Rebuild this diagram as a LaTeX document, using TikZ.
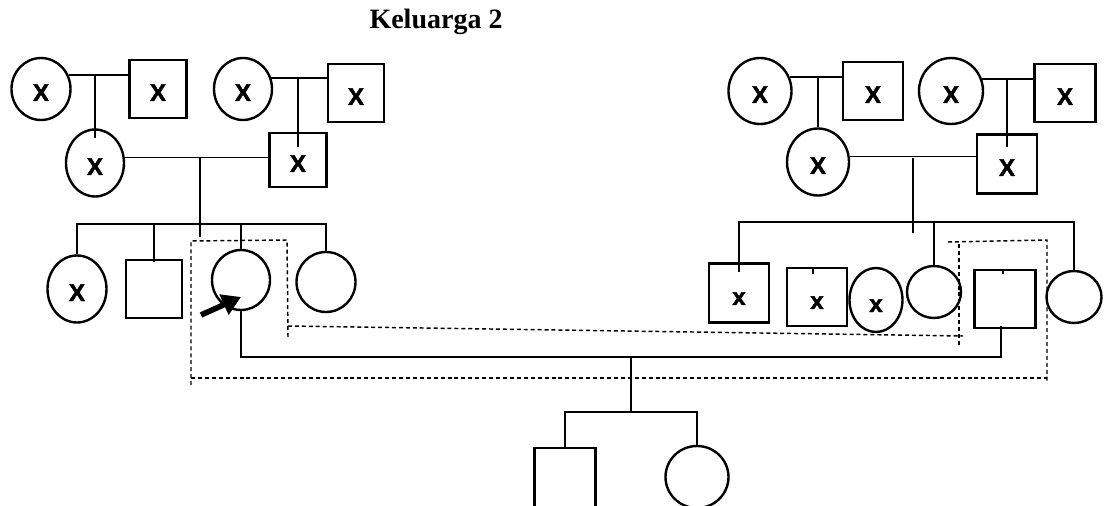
\documentclass[tikz,border=0pt]{standalone}
\usepackage{fontspec}
\setmainfont{Liberation Serif}
\newfontfamily\arialf{Liberation Sans}[UprightFont={* Bold},UprightFeatures={FakeBold=2}]
\usetikzlibrary{arrows.meta,calc,shapes.geometric}

\begin{document}
\begin{tikzpicture}[x=0.75pt,y=-0.75pt,
  fem/.style 2 args={ellipse,draw,line width=1.8pt,inner sep=0pt,minimum width=#1*0.75pt,minimum height=#2*0.75pt,text height=18pt,text depth=0pt,font=\arialf\fontsize{18}{21}\selectfont},
  mal/.style 2 args={rectangle,draw,line width=1.8pt,inner sep=0pt,minimum width=#1*0.75pt,minimum height=#2*0.75pt,text height=18pt,text depth=0pt,font=\arialf\fontsize{18}{21}\selectfont},
  link/.style={draw,line width=1pt},
  grp/.style={draw,line width=1.1pt,dash pattern=on 3pt off 2.2pt},
  proband/.style={-{Triangle[length=14pt,width=16pt]},line width=4.2pt}]
\useasboundingbox (0,0) rectangle (1111,506);
\clip (0,0) rectangle (1111,506);
\node[font=\bfseries\fontsize{21}{25}\selectfont] (title) at (436,22) {Keluarga 2};
% grandparents, left
\node[fem={59}{62}] (A1) at (41,89) {X};
\node[mal={57}{58}] (A2) at (158,89) {X};
\node[fem={58}{62}] (A3) at (243,89) {X};
\node[mal={56}{58}] (A4) at (356,93) {X};
% parents, left
\node[fem={58}{67}] (B1) at (95,163) {X};
\node[mal={57}{54}] (B2) at (298,160) {X};
% grandparents, right
\node[fem={63}{66}] (D1) at (760,91) {X};
\node[mal={60}{58}] (D2) at (873,91) {X};
\node[fem={64}{66}] (D3) at (951,91) {X};
\node[mal={61}{58}] (D4) at (1065,93) {X};
% parents, right
\node[fem={62}{67}] (E1) at (818,162) {X};
\node[mal={60}{59}] (E2) at (1007,164) {X};
% siblings, left
\node[fem={59}{67}] (C1) at (77,289) {X};
\node[mal={56}{58}] (C2) at (154,289) {};
\node[fem={58}{60}] (C3) at (241,280) {};
\node[fem={59}{60}] (C4) at (326,282) {};
% siblings, right
\node[mal={60}{59}] (F1) at (739,293) {x};
\node[mal={60}{58}] (F2) at (817,297) {x};
\node[fem={53}{64}] (F3) at (876,300) {x};
\node[fem={54}{52}] (F4) at (934,292) {};
\node[mal={61}{58}] (F5) at (1005,299) {};
\node[fem={55}{52}] (F6) at (1074,297) {};
% children
\node[mal={61}{60}] (G1) at (565,478) {};
\node[fem={63}{62}] (G2) at (697,477) {};
% junctions
\coordinate (j1) at (95,75);
\coordinate (j2) at (300,78);
\coordinate (j3) at (200,157);
\coordinate (j4) at (815,77);
\coordinate (j5) at (1007,79);
\coordinate (j6) at (913,158);
\coordinate (s1) at (200,224);
\coordinate (s2) at (913,222);
\coordinate (mm) at (631,357);
\coordinate (s3) at (631,412);
% couples and descent, left
\draw[link] (A1.27) -- (A1.27 -| A2.west);
\draw[link] (B1.north |- j1) -- ($(B1.north)+(0,10)$);
\draw[link] (A3.21) -- (A3.21 -| A4.west);
\draw[link] (B2.north |- j2) -- ($(B2.north)+(0,15)$);
\draw[link] (B1.10) -- (B1.10 -| B2.west);
\draw[link] (j3) -- ++(0,80);
\draw[link] (C1.north) |- (s1) -| (C4.north);
\draw[link] (C2.north |- s1) -- ($(C2.north)+(0,3)$);
\draw[link] (C3.north |- s1) -- (C3.north);
% couples and descent, right
\draw[link] (D1.25) -- (D1.25 -| D2.west);
\draw[link] (E1.north |- j4) -- (E1.north);
\draw[link] (D3.21) -- (D3.21 -| D4.west);
\draw[link] (E2.north |- j5) -- ($(E2.north)+(0,14)$);
\draw[link] (E1.10) -- (E1.10 -| E2.west);
\draw[link] (j6) -- ++(0,75);
\draw[link] (F1.north) |- (s2) -| (F6.north);
\draw[link] (F1.north) -- ++(0,10);
\draw[link] ($(F2.north)+(-4,0)$ |- s2) -- ($(F2.north)+(-4,7)$);
\draw[link] ($(F3.north)+(-3,0)$ |- s2) -- ($(F3.north)+(-3,0)$);
\draw[link] (F4.north |- s2) -- (F4.north);
\draw[link] ($(F5.north)+(-2,0)$ |- s2) -- ($(F5.north)+(-2,5)$);
% marriage and offspring
\draw[link] (C3.south) |- (mm) -| ($(F5.south)+(-4,-3)$);
\draw[link] ($(F5.south)+(-4,0)$ |- mm) -- ++(0,5);
\draw[link] (mm) -- (s3);
\draw[link] (G1.north) |- (s3) -| (G2.north);
% proband
\draw[proband] ($(C3.center)+(-40,35)$) -- ($(C3.center)+(0,17)$);
% grouping lines
\draw[grp] (191,385) -- (191,241) -- (287,240) -- (288,337);
\draw[grp] (288,326) -- (963,336);
\draw[grp] (959,345) -- (959,243);
\draw[grp] (948,242) -- (1047,240) -- (1047,383);
\draw[grp] (191,378) -- (1047,378);
\end{tikzpicture}
\end{document}
